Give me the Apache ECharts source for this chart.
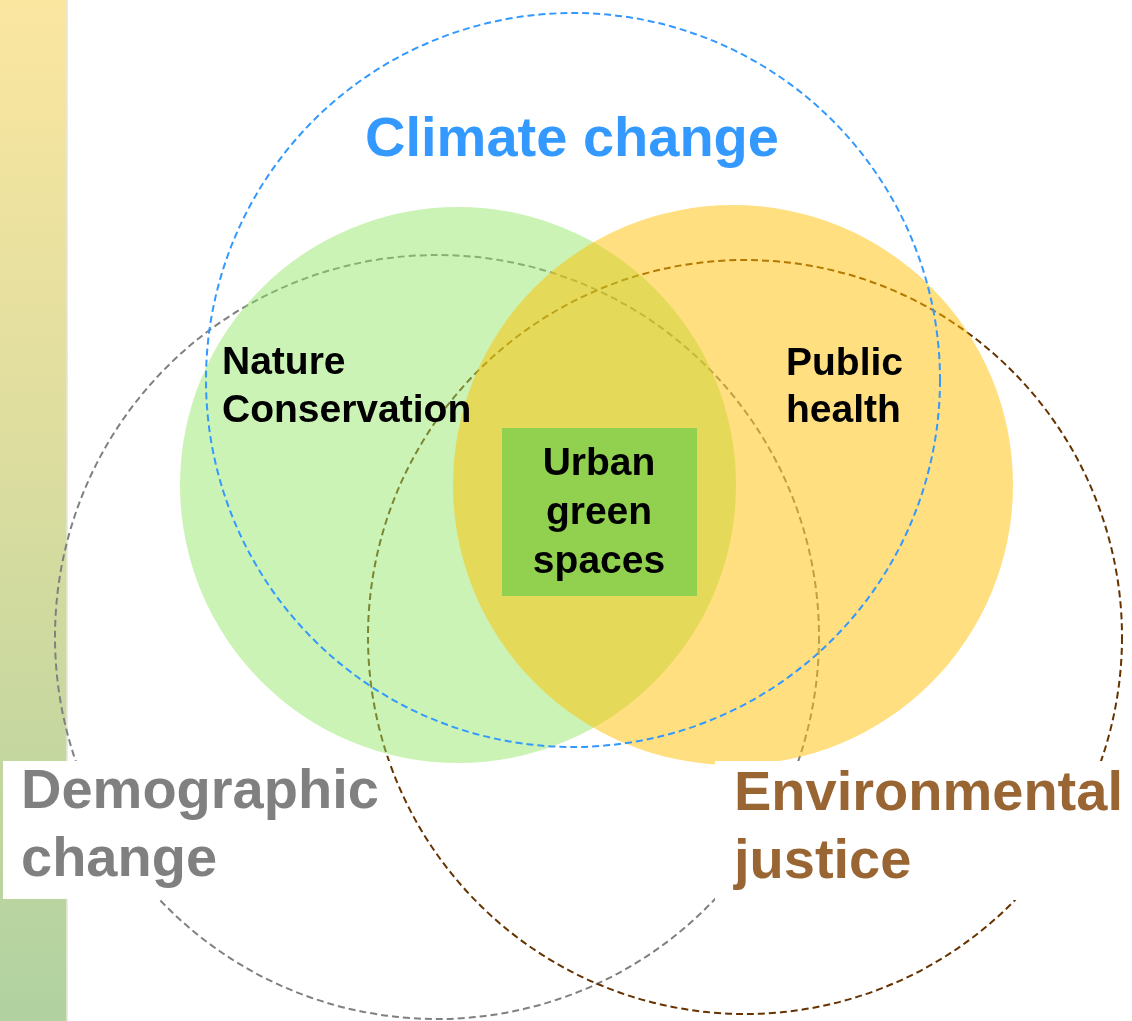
<!DOCTYPE html>
<html>
<head>
<meta charset="utf-8">
<script src="https://cdn.jsdelivr.net/npm/echarts@6/dist/echarts.min.js"></script>
<style>
  html, body { margin: 0; padding: 0; background: #fff; }
  #chart { width: 1132px; height: 1021px; }
</style>
</head>
<body>
<div id="chart"></div>
<script>
// canvas extent (diagram units = pixels)
const extentX = [0, 1132];
const extentY = [0, 1021];

// left gradient strip
const stripX = [0, 67];

// dashed rings: the three drivers
const ringNames = ['Demographic change', 'Environmental justice', 'Climate change'];
const ringX = [437, 745, 573];
const ringY = [637, 637, 380];
const ringR = [382, 377, 367];
const ringColors = ['#808080', '#663300', '#3399ff'];

// filled discs
const discNames = ['Nature Conservation', 'Public health'];
const discX = [458, 733];
const discY = [485, 485];
const discR = [278, 280];
const discColors = ['rgba(146,230,100,0.47)', 'rgba(255,192,0,0.5)'];

// boxes: [x0, y0, x1, y1]
const coreBox = [502, 428, 697, 596];
const labelBoxes = [[3, 761, 390, 899], [715, 761, 1132, 900]];

// text lines
const lineText = ['Climate change', 'Nature', 'Conservation', 'Public', 'health',
  'Urban', 'green', 'spaces', 'Demographic', 'change', 'Environmental', 'justice'];
const lineX = [572, 222, 222, 786, 786, 599, 599, 599, 21, 21, 734, 734];
const lineY = [141, 363, 411, 364, 411, 464, 513, 562, 793, 861, 795, 863];
const lineSize = [56, 39, 39, 39, 39, 39, 39, 39, 56, 56, 56, 56];
const lineColor = ['#3399ff', '#000', '#000', '#000', '#000', '#000', '#000', '#000',
  '#808080', '#808080', '#996633', '#996633'];
const lineAlign = ['center', 'left', 'left', 'left', 'left', 'center', 'center', 'center',
  'left', 'left', 'left', 'left'];

const FONT = '"Liberation Sans", Arial, sans-serif';

const chart = echarts.init(document.getElementById('chart'), null, { renderer: 'canvas' });

function ringItem(params, api) {
  const c = api.coord([api.value(0), api.value(1)]);
  const r = api.size([api.value(2), 0])[0];
  const i = api.value(3);
  return {
    type: 'circle',
    shape: { cx: c[0], cy: c[1], r: r },
    style: { fill: null, stroke: ringColors[i], lineWidth: 2, lineDash: [7, 4] }
  };
}

function rectItem(fill) {
  return function (params, api) {
    const p0 = api.coord([api.value(0), api.value(1)]);
    const p1 = api.coord([api.value(2), api.value(3)]);
    return {
      type: 'rect',
      shape: { x: p0[0], y: p0[1], width: p1[0] - p0[0], height: p1[1] - p0[1] },
      style: { fill: fill }
    };
  };
}

const option = {
  animation: false,
  grid: { left: 0, right: 0, top: 0, bottom: 0 },
  xAxis: { type: 'value', min: extentX[0], max: extentX[1], show: false },
  yAxis: { type: 'value', min: extentY[0], max: extentY[1], inverse: true, show: false },
  series: [
    {
      name: 'strip',
      type: 'custom',
      z: 1,
      silent: true,
      data: [[stripX[0], extentY[0], stripX[1], extentY[1]]],
      renderItem: function (params, api) {
        const p0 = api.coord([api.value(0), api.value(1)]);
        const p1 = api.coord([api.value(2), api.value(3)]);
        return {
          type: 'group',
          children: [
            {
              type: 'rect',
              shape: { x: p0[0], y: p0[1], width: p1[0] - p0[0], height: p1[1] - p0[1] },
              style: {
                fill: new echarts.graphic.LinearGradient(0, 0, 0, 1, [
                  { offset: 0, color: '#fbe6a0' },
                  { offset: 0.45, color: '#dcdd9f' },
                  { offset: 1, color: '#b0d2a0' }
                ])
              }
            },
            {
              type: 'rect',
              shape: { x: p1[0] - 1, y: p0[1], width: 2, height: p1[1] - p0[1] },
              style: { fill: 'rgba(230,230,215,0.8)' }
            }
          ]
        };
      }
    },
    {
      name: 'outer rings',
      type: 'custom',
      z: 2,
      silent: true,
      data: [0, 1].map(i => [ringX[i], ringY[i], ringR[i], i]),
      renderItem: ringItem
    },
    {
      name: 'discs',
      type: 'custom',
      z: 3,
      silent: true,
      data: discNames.map((n, i) => [discX[i], discY[i], discR[i], i]),
      renderItem: function (params, api) {
        const c = api.coord([api.value(0), api.value(1)]);
        const r = api.size([api.value(2), 0])[0];
        return {
          type: 'circle',
          shape: { cx: c[0], cy: c[1], r: r },
          style: { fill: discColors[api.value(3)] }
        };
      }
    },
    {
      name: 'climate ring',
      type: 'custom',
      z: 4,
      silent: true,
      data: [[ringX[2], ringY[2], ringR[2], 2]],
      renderItem: ringItem
    },
    {
      name: 'core',
      type: 'custom',
      z: 5,
      silent: true,
      data: [coreBox],
      renderItem: rectItem('#92d050')
    },
    {
      name: 'label boxes',
      type: 'custom',
      z: 5,
      silent: true,
      data: labelBoxes,
      renderItem: rectItem('#ffffff')
    },
    {
      name: 'texts',
      type: 'custom',
      z: 6,
      silent: true,
      data: lineText.map((t, i) => [lineX[i], lineY[i], i]),
      renderItem: function (params, api) {
        const i = api.value(2);
        const p = api.coord([api.value(0), api.value(1)]);
        return {
          type: 'text',
          x: p[0],
          y: p[1],
          style: {
            text: lineText[i],
            fill: lineColor[i],
            font: 'bold ' + lineSize[i] + 'px ' + FONT,
            align: lineAlign[i],
            verticalAlign: 'middle'
          }
        };
      }
    }
  ]
};

chart.setOption(option);
</script>
</body>
</html>
